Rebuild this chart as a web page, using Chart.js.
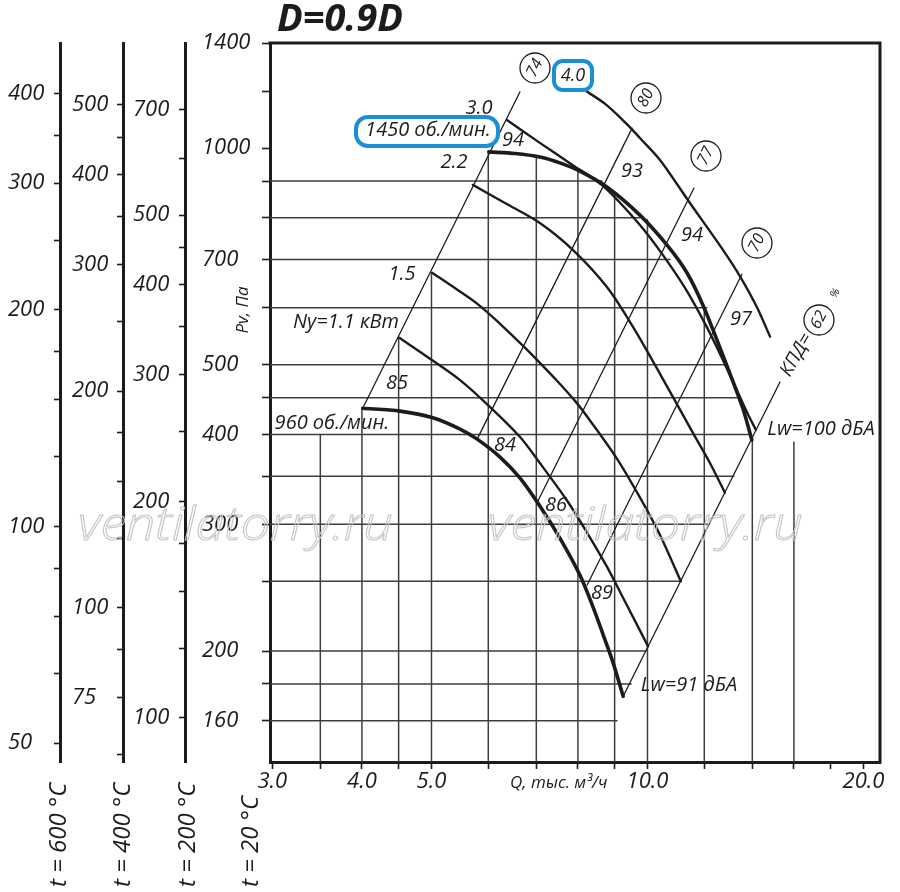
<!DOCTYPE html>
<html lang="ru">
<head>
<meta charset="utf-8">
<title>D=0.9D</title>
<script src="https://cdn.jsdelivr.net/npm/chart.js@4.4.1/dist/chart.umd.min.js"></script>
<style>
    html, body { margin: 0; padding: 0; background: #fff; }
    #wrap { width: 900px; height: 892px; }
</style>
</head>
<body>
<div id="wrap"><canvas id="fanChart" width="900" height="892"></canvas></div>
<script>
// axes: Q, thousand m3/h (log) and Pv, Pa (log)
const qTicks = [3, 3.5, 4, 4.5, 5, 6, 7, 8, 9, 10, 12, 14, 16, 18, 20];
const qLabels = [3, 4, 5, 10, 20];
const pTicks = [160, 180, 200, 250, 300, 350, 400, 450, 500, 600, 700, 800, 900, 1000, 1200, 1400];
const pLabels = [160, 200, 300, 400, 500, 700, 1000, 1400];

// pressure scales for hot gas
const t600Ticks = [50, 62.5, 75, 87.5, 100, 125, 150, 175, 200, 250, 300, 350, 400];
const t600Labels = [50, 100, 200, 300, 400];
const t400Ticks = [62.5, 75, 87.5, 100, 125, 150, 175, 200, 250, 300, 350, 400, 450, 500];
const t400Labels = [75, 100, 200, 300, 400, 500];
const t200Ticks = [100, 125, 150, 175, 200, 250, 300, 350, 400, 450, 500, 600, 700];
const t200Labels = [100, 200, 300, 400, 500, 700];

// fan curves
const q960 = [4.01, 4.52, 5.02, 5.48, 5.79, 6.23, 6.64, 7.08, 7.55, 8.05, 8.40, 8.67, 8.95, 9.25];
const p960 = [435, 431, 422, 407, 394, 372, 348, 318, 287, 255, 230, 211, 193, 173];
const q11 = [4.51, 4.93, 5.48, 6.03, 6.64, 7.08, 7.72, 8.24, 8.78, 9.25, 10.02];
const p11 = [545, 513, 476, 437, 397, 365, 324, 292, 262, 237, 203];
const q15 = [5.01, 5.39, 5.80, 6.23, 6.71, 7.08, 7.48, 7.93, 8.32, 9.07, 9.76, 10.41, 11.13];
const p15 = [671, 639, 607, 570, 531, 503, 475, 445, 418, 370, 327, 290, 250];
const q22 = [5.71, 6.33, 7.08, 7.87, 8.78, 9.55, 10.24, 10.85, 11.57, 12.22, 12.82];
const p22 = [889, 839, 787, 722, 641, 564, 500, 451, 402, 365, 332];
const q1450 = [6.01, 6.54, 7.08, 7.55, 8.05, 8.78, 9.76, 10.65, 11.35, 11.95, 12.50, 13.07, 13.59, 13.98];
const p1450 = [988, 983, 972, 954, 929, 883, 807, 733, 671, 605, 541, 482, 434, 393];
const q30 = [6.37, 7.08, 7.87, 8.67, 9.76, 10.51, 11.35, 12.10, 12.70, 13.33, 13.80, 14.16];
const p30 = [1094, 1017, 947, 886, 782, 710, 633, 564, 511, 460, 427, 406];
const q40 = [8.13, 8.73, 9.36, 9.76, 10.41, 11.46, 12.74, 13.45, 14.21, 14.82];
const p40 = [1208, 1152, 1080, 1033, 963, 839, 722, 664, 601, 547];

// efficiency lines (straight on log-log), ends
const etaNames = ['74', '80', '77', '70', '62'];
const etaQ = [[4.01, 6.64], [5.79, 9.52], [7.01, 11.61], [8.24, 13.54], [9.25, 15.30]];
const etaP = [[435, 1197], [394, 1066], [321, 880], [247, 668], [173, 473]];

// partial grid
const hGridP = [900, 800, 700, 600, 500, 450, 400, 350, 300, 250, 200, 180, 160];
const hGridQEnd = [8.64, 9.76, 10.75, 12.10, 12.91, 13.33, 13.89, 13.20, 12.18, 11.12, 9.95, 9.49, 9.07];
const vGridQ = [3.5, 4, 4.5, 5, 6, 7, 8, 9, 10, 12, 14, 16];
const vGridPTop = [400, 435, 545, 671, 988, 970, 929, 861, 795, 600, 391, 390];

const xMin = 2.978, xMax = 21.09;
const yMin = 140.2, yMax = 1400;
const ratio = t => 293 / (273 + t);

const ink = '#1c1c1c';
const gridInk = '#3e3e3e';
const blue = '#1a8fd6';
const fam = '"Open Sans", "Noto Sans", sans-serif';
const tickFont = { family: fam, size: 22, style: 'italic' };

const series = (qs, ps) => qs.map((q, i) => ({ x: q, y: ps[i] }));

const datasets = [];
hGridP.forEach((p, i) => datasets.push({
    data: [{ x: xMin, y: p }, { x: hGridQEnd[i], y: p }],
    borderColor: gridInk, borderWidth: 1.5, order: 3,
}));
vGridQ.forEach((q, i) => datasets.push({
    data: [{ x: q, y: yMin }, { x: q, y: vGridPTop[i] }],
    borderColor: gridInk, borderWidth: 1.5, order: 3,
}));
etaQ.forEach((qs, i) => datasets.push({
    label: 'КПД ' + etaNames[i],
    data: series(qs, etaP[i]),
    borderColor: ink, borderWidth: 1.3, order: 2,
}));
[[q11, p11], [q15, p15], [q22, p22], [q30, p30], [q40, p40]].forEach(([q, p]) => datasets.push({
    data: series(q, p), borderColor: ink, borderWidth: 2.4, tension: 0.3, order: 1,
}));
[[q960, p960], [q1450, p1450]].forEach(([q, p]) => datasets.push({
    data: series(q, p), borderColor: ink, borderWidth: 3.6, tension: 0.3, order: 0,
}));
datasets.forEach((d) => { d.xAxisID = 'x'; d.yAxisID = 'y'; });

function tempAxis(t, ticks, labels, weight, width) {
    return {
        type: 'logarithmic', position: 'left', weight,
        min: yMin * ratio(t), max: yMax * ratio(t),
        afterBuildTicks: (s) => { s.ticks = ticks.map((v) => ({ value: v })); },
        afterFit: (s) => { s.width = width; },
        grid: { display: true, drawOnChartArea: false, drawTicks: true, tickLength: 6, tickWidth: 1.6, tickColor: ink },
        border: { display: true, width: 3, color: ink },
        ticks: { autoSkip: false, crossAlign: 'far', color: ink, font: tickFont, callback: (v) => (labels.includes(v) ? String(v) : '') },
    };
}

function spacer(weight, width) {
    return {
        type: 'linear', position: 'left', weight,
        grid: { display: false }, border: { display: false }, ticks: { display: false },
        afterFit: (s) => { s.width = width; },
    };
}

function write(ctx, text, x, y, size, align = 'center', angle = 0, weight = 'normal') {
    ctx.save();
    ctx.translate(x, y);
    if (angle) ctx.rotate(angle);
    ctx.font = `italic ${weight} ${size}px ${fam}`;
    ctx.textAlign = align;
    ctx.textBaseline = 'middle';
    ctx.fillText(text, 0, 0);
    ctx.restore();
}

function roundBox(ctx, x, y, w, h, r) {
    ctx.beginPath();
    ctx.moveTo(x + r, y);
    ctx.arcTo(x + w, y, x + w, y + h, r);
    ctx.arcTo(x + w, y + h, x, y + h, r);
    ctx.arcTo(x, y + h, x, y, r);
    ctx.arcTo(x, y, x + w, y, r);
    ctx.closePath();
    ctx.stroke();
}

const notes = [
    ['3.0', 479, 108], ['1450 об./мин.', 428, 130], ['94', 513, 140], ['2.2', 454, 162],
    ['1.5', 402, 274], ['Ny=1.1 кВт', 346, 322], ['85', 397, 383], ['960 об./мин.', 332, 423],
    ['84', 505, 445], ['86', 556, 505], ['89', 602, 593], ['93', 632, 171], ['94', 692, 235],
    ['97', 741, 319], ['Lw=100 дБА', 821, 429], ['Lw=91 дБА', 689, 685], ['4.0', 573, 76, 18],
];
const circles = [[535, 68], [646, 98], [706, 156], [757, 243], [819, 320]];

const decor = {
    id: 'decor',
    afterDraw(chart) {
        const { ctx, chartArea: a } = chart;
        ctx.save();
        ctx.strokeStyle = ink;
        ctx.lineWidth = 3;
        ctx.beginPath();
        ctx.moveTo(a.left - 1.5, a.top);
        ctx.lineTo(a.right, a.top);
        ctx.lineTo(a.right, a.bottom + 1.5);
        ctx.stroke();

        ctx.fillStyle = ink;
        write(ctx, 'D=0.9D', 277, 20, 38, 'left', 0, 'bold');
        notes.forEach((n) => write(ctx, n[0], n[1], n[2], n[3] || 20));

        ctx.strokeStyle = blue;
        ctx.lineWidth = 4;
        roundBox(ctx, 356, 117, 142, 29, 12);
        roundBox(ctx, 554, 61, 38, 29, 9);

        circles.forEach(([cx, cy], i) => {
            ctx.beginPath();
            ctx.arc(cx, cy, 15, 0, Math.PI * 2);
            ctx.fillStyle = '#fff';
            ctx.fill();
            ctx.strokeStyle = ink;
            ctx.lineWidth = 1.3;
            ctx.stroke();
            ctx.fillStyle = ink;
            write(ctx, etaNames[i], cx, cy, 16, 'center', -1.1);
        });
        write(ctx, 'КПД=', 785, 375, 19, 'left', -1.05);
        write(ctx, '%', 833, 297, 11, 'left', -1.05);

        write(ctx, 't = 600 °C', 59, 887, 24, 'left', -Math.PI / 2);
        write(ctx, 't = 400 °C', 123, 887, 24, 'left', -Math.PI / 2);
        write(ctx, 't = 200 °C', 188, 887, 24, 'left', -Math.PI / 2);
        write(ctx, 't = 20 °C', 251, 887, 24, 'left', -Math.PI / 2);
        write(ctx, 'Pv, Па', 243, 310, 17, 'center', -Math.PI / 2);
        write(ctx, 'Q, тыс. м³/ч', 510, 783, 17, 'left');

        // watermark, outlined
        ctx.font = `italic 300 46px ${fam}`;
        ctx.textAlign = 'left';
        ctx.textBaseline = 'alphabetic';
        ctx.strokeStyle = '#c4c4c4';
        ctx.lineWidth = 1;
        [78, 488].forEach((x) => {
            ctx.save();
            ctx.translate(x, 540);
            ctx.scale(1.13, 1);
            ctx.strokeText('ventilatorry.ru', 0, 0);
            ctx.restore();
        });
        ctx.restore();
    },
};

new Chart(document.getElementById('fanChart'), {
    type: 'line',
    data: { datasets },
    options: {
        responsive: false,
        devicePixelRatio: 1,
        animation: false,
        events: [],
        layout: { padding: { left: 8, right: 20, top: 43, bottom: 0 } },
        elements: { point: { radius: 0 }, line: { tension: 0, fill: false, borderCapStyle: 'round', borderJoinStyle: 'round' } },
        plugins: { legend: { display: false }, tooltip: { enabled: false } },
        scales: {
            x: {
                type: 'logarithmic', position: 'bottom', min: xMin, max: xMax,
                afterBuildTicks: (s) => { s.ticks = qTicks.map((v) => ({ value: v })); },
                afterFit: (s) => { s.height = 130; },
                grid: { display: true, drawOnChartArea: false, drawTicks: true, tickLength: 7, tickWidth: 1.6, tickColor: ink },
                border: { display: true, width: 3, color: ink },
                ticks: { autoSkip: false, maxRotation: 0, padding: 0, color: ink, font: tickFont, callback: (v) => (qLabels.includes(v) ? v.toFixed(1) : '') },
            },
            y: {
                type: 'logarithmic', position: 'left', weight: 0, min: yMin, max: yMax,
                afterBuildTicks: (s) => { s.ticks = pTicks.map((v) => ({ value: v })); },
                afterFit: (s) => { s.width = 68; },
                grid: { display: true, drawOnChartArea: false, drawTicks: true, tickLength: 8, tickWidth: 1.6, tickColor: ink },
                border: { display: true, width: 3, color: ink },
                ticks: { autoSkip: false, crossAlign: 'far', color: ink, font: tickFont, callback: (v) => (pLabels.includes(v) ? String(v) : '') },
            },
            sp3: spacer(1, 17),
            t200: tempAxis(200, t200Ticks, t200Labels, 2, 52),
            sp2: spacer(3, 10),
            t400: tempAxis(400, t400Ticks, t400Labels, 4, 51),
            sp1: spacer(5, 12),
            t600: tempAxis(600, t600Ticks, t600Labels, 6, 52),
        },
    },
    plugins: [decor],
});
</script>
</body>
</html>
